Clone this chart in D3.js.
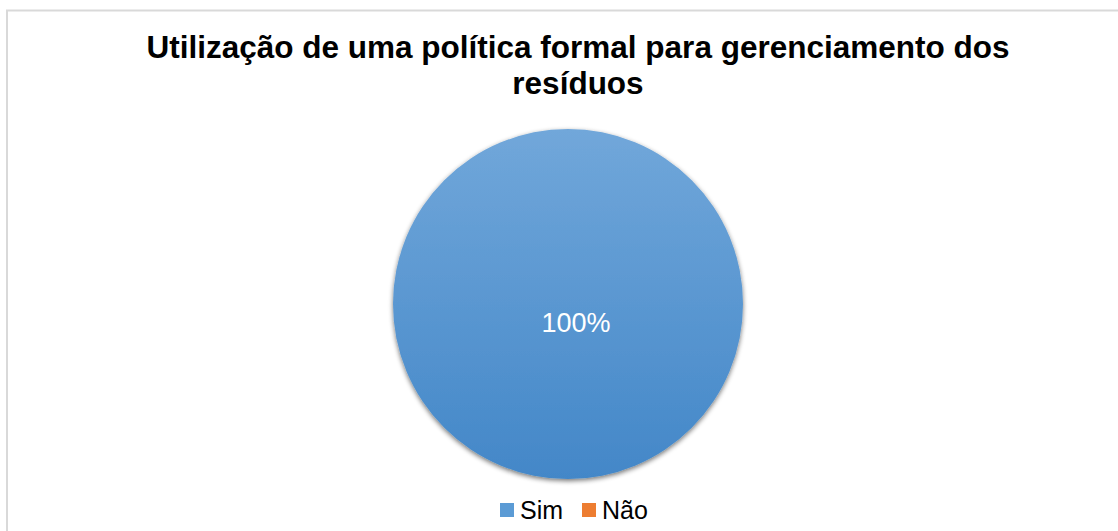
<!DOCTYPE html>
<html>
<head>
<meta charset="utf-8">
<script src="https://cdn.jsdelivr.net/npm/d3@7"></script>
<style>
  html, body { margin: 0; padding: 0; background: #fff; }
  svg { display: block; }
</style>
</head>
<body>
<svg id="chart" width="1118" height="531"></svg>
<script>
// Survey answers: use of a formal waste-management policy
const categories = ["Sim", "Não"];
const values = [100, 0];
const colors = ["#5b9bd5", "#ed7d31"];
const titleLines = ["Utilização de uma política formal para gerenciamento dos", "resíduos"];

const W = 1118, H = 531;
const svg = d3.select("#chart");

const defs = svg.append("defs");
const grad = defs.append("linearGradient")
  .attr("id", "sliceFill").attr("x1", 0).attr("y1", 0).attr("x2", 0).attr("y2", 1);
grad.append("stop").attr("offset", "0%").attr("stop-color", "#71a7da");
grad.append("stop").attr("offset", "100%").attr("stop-color", "#4387c8");

const shadow = defs.append("filter").attr("id", "pieShadow")
  .attr("x", "-20%").attr("y", "-20%").attr("width", "140%").attr("height", "140%");
shadow.append("feGaussianBlur").attr("in", "SourceAlpha").attr("stdDeviation", 2.5).attr("result", "b");
shadow.append("feOffset").attr("in", "b").attr("dx", 0).attr("dy", 2).attr("result", "o");
shadow.append("feComponentTransfer").attr("in", "o").attr("result", "s")
  .append("feFuncA").attr("type", "linear").attr("slope", 0.55);
const merge = shadow.append("feMerge");
merge.append("feMergeNode").attr("in", "s");
merge.append("feMergeNode").attr("in", "SourceGraphic");

// chart frame
svg.append("rect")
  .attr("x", 7).attr("y", 10.5).attr("width", W + 10).attr("height", H + 10)
  .attr("fill", "#fff").attr("stroke", "#d9d9d9").attr("stroke-width", 2);

// title
svg.append("text")
  .attr("text-anchor", "middle")
  .attr("font-family", "Liberation Sans, Arial, sans-serif")
  .attr("font-weight", "bold").attr("font-size", 31.5).attr("fill", "#000")
  .selectAll("tspan").data(titleLines).join("tspan")
  .attr("x", 578).attr("y", (d, i) => 58 + i * 36)
  .text(d => d);

// pie
const cx = 568, cy = 304, r = 175;
const pie = d3.pie().sort(null).value(d => d.value);
const arcs = pie(categories.map((c, i) => ({ cat: c, value: values[i], color: colors[i] })));
const arc = d3.arc().innerRadius(0).outerRadius(r);

const g = svg.append("g").attr("transform", `translate(${cx},${cy})`);
g.selectAll("path").data(arcs.filter(a => a.data.value > 0)).join("path")
  .attr("d", arc)
  .attr("fill", d => d.data.cat === "Sim" ? "url(#sliceFill)" : d.data.color)
  .attr("filter", "url(#pieShadow)");

const total = d3.sum(values);
g.selectAll("text.lbl").data(arcs.filter(a => a.data.value > 0)).join("text")
  .attr("class", "lbl")
  .attr("x", 8).attr("y", 28)
  .attr("text-anchor", "middle")
  .attr("font-family", "Liberation Sans, Arial, sans-serif")
  .attr("font-size", 27).attr("fill", "#fff")
  .text(d => d3.format(".0%")(d.data.value / total));

// legend
const legend = svg.append("g");
const itemX = [500, 582];
categories.forEach((c, i) => {
  const it = legend.append("g").attr("transform", `translate(${itemX[i]},503)`);
  it.append("rect").attr("width", 14).attr("height", 14).attr("fill", colors[i]);
  it.append("text").attr("x", 20).attr("y", 15.5)
    .attr("font-family", "Liberation Sans, Arial, sans-serif")
    .attr("font-size", 25).attr("fill", "#000")
    .text(c);
});
</script>
</body>
</html>
